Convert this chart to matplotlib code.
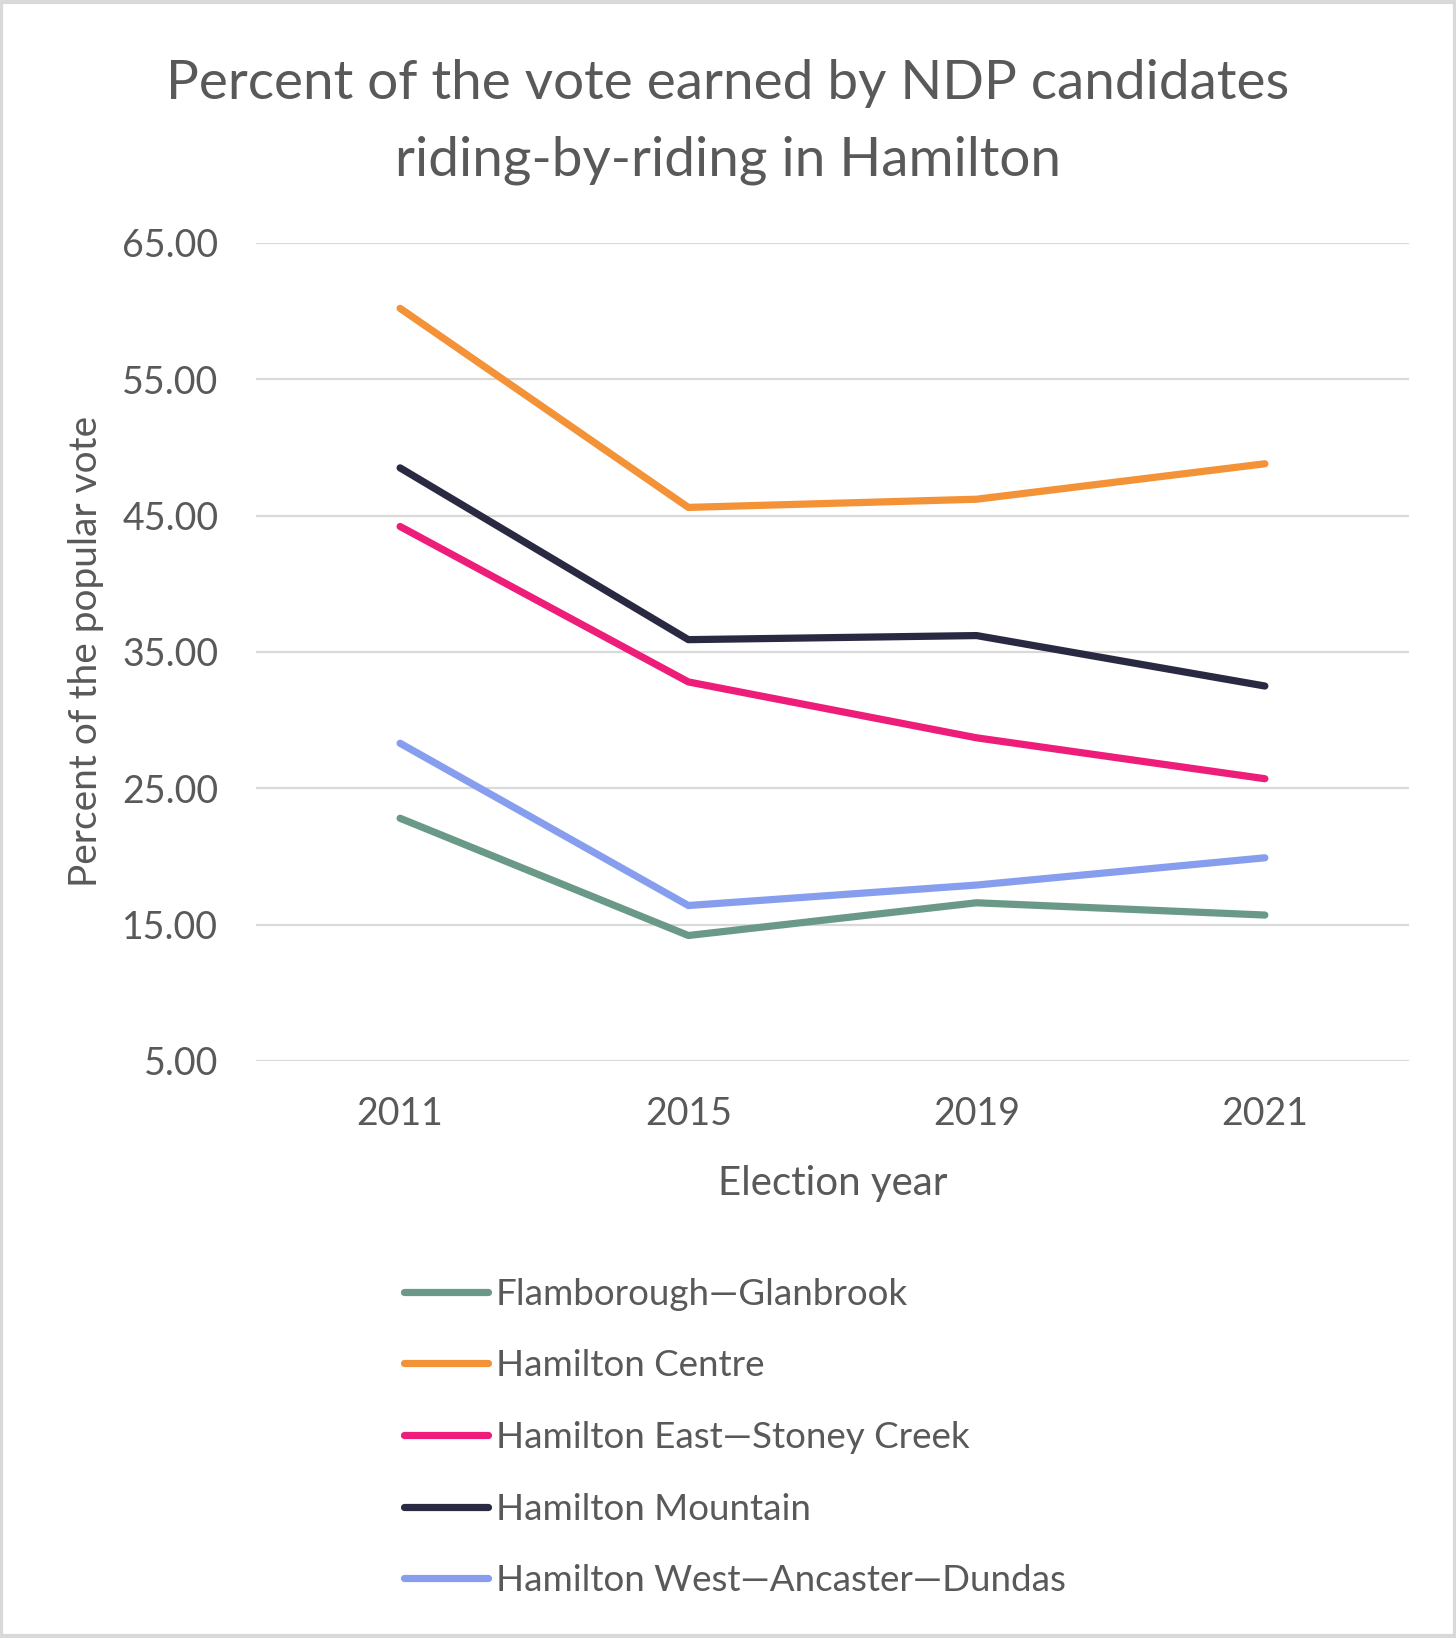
import numpy as np
import matplotlib
matplotlib.use("Agg")
import matplotlib.pyplot as plt

plt.rcParams['font.family'] = ['Lato', 'DejaVu Sans']

# election years (category axis)
years = ["2011", "2015", "2019", "2021"]

# percent of vote
flamborough_glanbrook = [22.8, 14.2, 16.6, 15.7]
hamilton_centre = [60.2, 45.6, 46.2, 48.8]
hamilton_east_stoney_creek = [44.2, 32.8, 28.7, 25.7]
hamilton_mountain = [48.5, 35.9, 36.2, 32.5]
hamilton_west_ancaster_dundas = [28.3, 16.4, 17.9, 19.9]

series_names = ["Flamborough\u2014Glanbrook", "Hamilton Centre",
                "Hamilton East\u2014Stoney Creek", "Hamilton Mountain",
                "Hamilton West\u2014Ancaster\u2014Dundas"]
series_values = [flamborough_glanbrook, hamilton_centre, hamilton_east_stoney_creek,
                 hamilton_mountain, hamilton_west_ancaster_dundas]
colors = ["#6A9A87", "#F39237", "#EE1D7A", "#292A42", "#879EEE"]

y_ticks = [5, 15, 25, 35, 45, 55, 65]

txt = "#595959"

fig = plt.figure(figsize=(14.56, 16.38), dpi=100)
ax = fig.add_axes([0.1758, 0.3523, 0.7919, 0.4994])

x = np.arange(len(years))
for name, vals, c in zip(series_names, series_values, colors):
    ax.plot(x, vals, color=c, lw=5.2, solid_capstyle="round",
            solid_joinstyle="round", label=name)

ax.set_xlim(-0.5, len(years) - 0.5)
ax.set_ylim(5, 65)
ax.set_yticks(y_ticks)
ax.set_yticklabels(["%.2f" % v for v in y_ticks])
ax.set_xticks(x)
ax.set_xticklabels(years)
ax.grid(axis="y", color="#D9D9D9", lw=1.6)
ax.set_axisbelow(True)
for s in ax.spines.values():
    s.set_visible(False)
ax.tick_params(length=0, labelsize=27, colors=txt)
ax.tick_params(axis="y", pad=27)
ax.tick_params(axis="x", pad=25)

ax.set_xlabel("Election year", fontsize=29, color=txt, labelpad=24)
ax.set_ylabel("Percent of the popular vote", fontsize=28, color=txt, labelpad=13)

fig.text(0.5, 0.9255, "Percent of the vote earned by NDP candidates\nriding-by-riding in Hamilton",
         ha="center", va="center", fontsize=39.5, color=txt, linespacing=1.68)

leg = fig.legend(loc="upper left", bbox_to_anchor=(0.2775, 0.220), frameon=False,
                 fontsize=26.5, labelcolor=txt, handlelength=2.28, handletextpad=0.22,
                 labelspacing=1.05, borderpad=0, borderaxespad=0)

# light grey frame round the whole picture
fig.patches.append(plt.Rectangle((0.001, 0.001), 0.998, 0.998, transform=fig.transFigure,
                                 fill=False, edgecolor="#D9D9D9", lw=3))

fig.savefig("out.png", dpi=100)
